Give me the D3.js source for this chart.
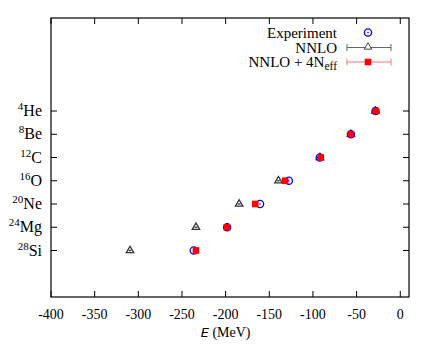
<!DOCTYPE html>
<html>
<head>
<meta charset="utf-8">
<script src="https://cdn.jsdelivr.net/npm/d3@7"></script>
<style>
  body { margin: 0; background: #fff; }
</style>
</head>
<body>
<svg id="chart" width="436" height="347" font-family="'Liberation Serif', 'Times New Roman', Times, serif"></svg>
<script>
// nuclei, top to bottom
const nuclei = [
  { mass: "4", sym: "He" },
  { mass: "8", sym: "Be" },
  { mass: "12", sym: "C" },
  { mass: "16", sym: "O" },
  { mass: "20", sym: "Ne" },
  { mass: "24", sym: "Mg" },
  { mass: "28", sym: "Si" }
];
const experiment = [-28.3, -56.5, -92.2, -127.6, -160.6, -198.3, -236.5];
const nnlo = [-28.5, -56.5, -92.0, -139.5, -184.5, -234.0, -309.5];
const nnloErr = [1.5, 1.5, 1.5, 1.5, 1.5, 1.5, 1.5];
const nnlo4n = [-28.0, -56.5, -91.0, -131.8, -166.0, -198.5, -234.0];
const nnlo4nErr = [1.0, 1.0, 1.0, 1.0, 1.0, 1.0, 1.0];
const xTicks = [-400, -350, -300, -250, -200, -150, -100, -50, 0];

const svg = d3.select("#chart");
const mLeft = 51, mRight = 409, mTop = 18, mBottom = 297;
const serif = "'Liberation Serif', 'Times New Roman', Times, serif";

const x = d3.scaleLinear().domain([-400, 10]).range([mLeft, mRight]);
const y = d3.scaleLinear().domain([0, 12]).range([mTop, mBottom]);

// frame
svg.append("rect")
  .attr("x", mLeft).attr("y", mTop)
  .attr("width", mRight - mLeft).attr("height", mBottom - mTop)
  .attr("fill", "none").attr("stroke", "#000").attr("stroke-width", 1.2);

// x ticks, bottom and top, pointing inward
const tickLen = 6;
xTicks.forEach(t => {
  svg.append("line").attr("x1", x(t)).attr("x2", x(t))
    .attr("y1", mBottom).attr("y2", mBottom - tickLen).attr("stroke", "#000");
  svg.append("line").attr("x1", x(t)).attr("x2", x(t))
    .attr("y1", mTop).attr("y2", mTop + tickLen).attr("stroke", "#000");
  svg.append("text").attr("x", x(t)).attr("y", 319)
    .attr("font-family", serif)
    .attr("text-anchor", "middle").attr("font-size", 14).text(t);
});

// y ticks and labels
nuclei.forEach((n, i) => {
  const yy = y(i + 4);
  svg.append("line").attr("x1", mLeft).attr("x2", mLeft + tickLen)
    .attr("y1", yy).attr("y2", yy).attr("stroke", "#000");
  svg.append("line").attr("x1", mRight).attr("x2", mRight - tickLen)
    .attr("y1", yy).attr("y2", yy).attr("stroke", "#000");
  const t = svg.append("text").attr("x", 42).attr("y", yy + 5)
    .attr("font-family", serif)
    .attr("text-anchor", "end").attr("font-size", 16);
  t.append("tspan").attr("font-size", 11).attr("dy", -6).text(n.mass);
  t.append("tspan").attr("dy", 6).text(n.sym);
});

// axis title
const xt = svg.append("text").attr("x", x(-200)).attr("y", 337)
  .attr("font-family", serif)
  .attr("text-anchor", "middle").attr("font-size", 14);
xt.append("tspan").attr("font-family", "'DejaVu Sans', sans-serif")
  .attr("font-style", "italic").attr("font-size", 13).text("E");
xt.append("tspan").text(" (MeV)");

const triangle = d3.symbol().type(d3.symbolTriangle).size(24);

// NNLO with error bars
const gN = svg.append("g");
nnlo.forEach((v, i) => {
  const yy = y(i + 4);
  gN.append("line").attr("x1", x(v - nnloErr[i])).attr("x2", x(v + nnloErr[i]))
    .attr("y1", yy).attr("y2", yy).attr("stroke", "#333").attr("stroke-width", 1.3);
  gN.append("path").attr("d", triangle)
    .attr("transform", `translate(${x(v)},${yy})`)
    .attr("fill", "none").attr("stroke", "#333").attr("stroke-width", 1.3);
});

// Experiment
const gE = svg.append("g");
experiment.forEach((v, i) => {
  const yy = y(i + 4);
  gE.append("circle").attr("cx", x(v)).attr("cy", yy).attr("r", 3.6)
    .attr("fill", "none").attr("stroke", "#0000ff").attr("stroke-width", 1.3);
  gE.append("circle").attr("cx", x(v)).attr("cy", yy).attr("r", 0.8)
    .attr("fill", "#0000ff");
});

// NNLO + 4Neff
const gR = svg.append("g");
nnlo4n.forEach((v, i) => {
  const yy = y(i + 4);
  gR.append("line").attr("x1", x(v - nnlo4nErr[i])).attr("x2", x(v + nnlo4nErr[i]))
    .attr("y1", yy).attr("y2", yy).attr("stroke", "#ff7070");
  gR.append("rect").attr("x", x(v) - 3.3).attr("y", yy - 3.3)
    .attr("width", 6.6).attr("height", 6.6).attr("fill", "#ff0000");
});

// legend
const lg = svg.append("g").attr("font-family", serif);
const lx = 337, sx = 368, ex0 = 347, ex1 = 391;
lg.append("text").attr("x", lx).attr("y", 37.5).attr("text-anchor", "end")
  .attr("font-size", 15).text("Experiment");
lg.append("circle").attr("cx", sx).attr("cy", 32.5).attr("r", 3.6)
  .attr("fill", "none").attr("stroke", "#0000ff").attr("stroke-width", 1.3);
lg.append("circle").attr("cx", sx).attr("cy", 32.5).attr("r", 0.8).attr("fill", "#0000ff");

lg.append("text").attr("x", lx).attr("y", 52.5).attr("text-anchor", "end")
  .attr("font-size", 15).text("NNLO");
lg.append("line").attr("x1", ex0).attr("x2", ex1).attr("y1", 47.5).attr("y2", 47.5).attr("stroke", "#666");
[ex0, ex1].forEach(e => lg.append("line").attr("x1", e).attr("x2", e)
  .attr("y1", 44).attr("y2", 51).attr("stroke", "#666"));
lg.append("path").attr("d", triangle).attr("transform", `translate(${sx},47)`)
  .attr("fill", "#fff").attr("stroke", "#444");

const l3 = lg.append("text").attr("x", lx).attr("y", 66.5).attr("text-anchor", "end")
  .attr("font-size", 15);
l3.append("tspan").text("NNLO + 4N");
l3.append("tspan").attr("font-size", 11.5).attr("dy", 3.5).text("eff");
lg.append("line").attr("x1", ex0).attr("x2", ex1).attr("y1", 62).attr("y2", 62).attr("stroke", "#ff7070");
[ex0, ex1].forEach(e => lg.append("line").attr("x1", e).attr("x2", e)
  .attr("y1", 58.5).attr("y2", 65.5).attr("stroke", "#ff7070"));
lg.append("rect").attr("x", sx - 3.3).attr("y", 62 - 3.3)
  .attr("width", 6.6).attr("height", 6.6).attr("fill", "#ff0000");
</script>
</body>
</html>
